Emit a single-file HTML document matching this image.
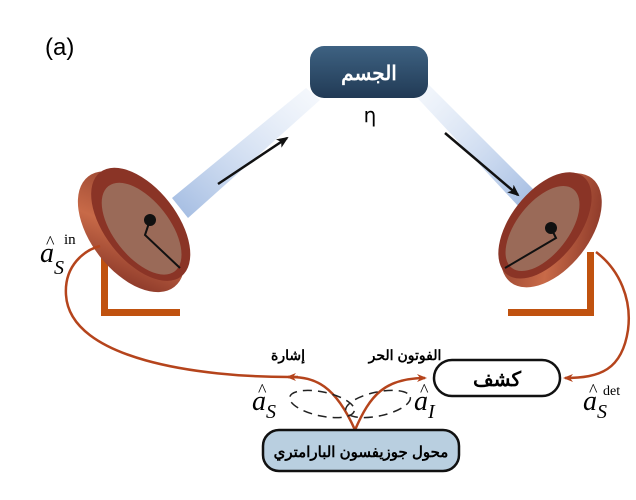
<!DOCTYPE html>
<html><head><meta charset="utf-8"><style>
body{margin:0;background:#fff}
svg{display:block}
.ar{font-family:"Liberation Sans","Noto Sans CJK SC",sans-serif;font-weight:bold}
.m{font-family:"Liberation Serif",serif;font-style:italic}
</style></head><body>
<svg width="636" height="500" viewBox="0 0 636 500">
<defs>
<linearGradient id="beamL" x1="0" y1="1" x2="1" y2="0">
<stop offset="0" stop-color="#3a6fc0" stop-opacity="0.8"/>
<stop offset="1" stop-color="#9fbce6" stop-opacity="0.15"/>
</linearGradient>
<linearGradient id="beamR" x1="1" y1="1" x2="0" y2="0">
<stop offset="0" stop-color="#3a6fc0" stop-opacity="0.8"/>
<stop offset="1" stop-color="#9fbce6" stop-opacity="0.15"/>
</linearGradient>
<linearGradient id="rim" x1="0" y1="0" x2="1" y2="1">
<stop offset="0" stop-color="#8a3a2a"/>
<stop offset="0.5" stop-color="#c86a48"/>
<stop offset="1" stop-color="#7a2a20"/>
</linearGradient>
<linearGradient id="obj" x1="0" y1="0" x2="0" y2="1">
<stop offset="0" stop-color="#3e6282"/>
<stop offset="1" stop-color="#213a55"/>
</linearGradient>
<marker id="ah" markerWidth="10" markerHeight="10" refX="8" refY="5" orient="auto" markerUnits="userSpaceOnUse">
<path d="M0,1 L10,5 L0,9 L3,5 z" fill="#b5441c"/></marker>
<marker id="bk" markerWidth="12" markerHeight="10" refX="10" refY="5" orient="auto" markerUnits="userSpaceOnUse">
<path d="M0,0 L12,5 L0,10 L3,5 z" fill="#111"/></marker>
</defs>

<text x="45" y="55" font-family="Liberation Sans,sans-serif" font-size="24">(a)</text>

<!-- beams -->
<polygon points="172,198 188,218 320,100 306,88" fill="url(#beamL)" opacity="0.6"/>
<polygon points="410,90 424,80 536,192 520,208" fill="url(#beamR)" opacity="0.6"/>
<line x1="218" y1="184" x2="287" y2="138" stroke="#111" stroke-width="2.5" marker-end="url(#bk)"/>
<line x1="445" y1="133" x2="518" y2="195" stroke="#111" stroke-width="2.5" marker-end="url(#bk)"/>

<!-- object -->
<rect x="310" y="46" width="118" height="52" rx="14" fill="url(#obj)"/>
<text x="369" y="80" class="ar" font-size="20" fill="#fff" text-anchor="middle">الجسم</text>
<text x="370" y="122" font-family="DejaVu Sans,sans-serif" font-size="20" text-anchor="middle">η</text>

<!-- left stand -->
<rect x="101" y="252" width="7" height="64" fill="#c0520f"/>
<rect x="101" y="309" width="79" height="7" fill="#c0520f"/>
<!-- left dish -->
<g transform="translate(136,228) rotate(52)">
<ellipse cx="0" cy="6" rx="70" ry="40" fill="url(#rim)"/>
<ellipse cx="0" cy="-6" rx="66" ry="36" fill="#8a3426"/>
<ellipse cx="4" cy="-4" rx="54" ry="28" fill="#9a6a58"/>
</g>
<path d="M150,220 L145,235 L180,268" stroke="#111" stroke-width="2" fill="none"/>
<circle cx="150" cy="220" r="6" fill="#111"/>

<!-- right stand -->
<rect x="587" y="252" width="7" height="64" fill="#c0520f"/>
<rect x="508" y="309" width="86" height="7" fill="#c0520f"/>
<!-- right dish -->
<g transform="translate(556,234) rotate(-52)">
<ellipse cx="0" cy="-6" rx="66" ry="38" fill="url(#rim)"/>
<ellipse cx="0" cy="-14" rx="62" ry="34" fill="#8a3426"/>
<ellipse cx="-4" cy="-14" rx="50" ry="26" fill="#9a6a58"/>
</g>
<path d="M551,228 L556,238 L505,268" stroke="#111" stroke-width="2" fill="none"/>
<circle cx="551" cy="228" r="6" fill="#111"/>

<!-- curves -->
<path d="M355,430 C335,385 315,377 290,377 C200,377 70,360 66,295 C64,265 85,250 100,246" stroke="#b5441c" stroke-width="2.5" fill="none"/>
<path d="M298,377 L288,377" stroke="#b5441c" stroke-width="2.5" marker-end="url(#ah)"/>
<path d="M355,430 C370,395 385,378 425,378" stroke="#b5441c" stroke-width="2.5" fill="none" marker-end="url(#ah)"/>
<path d="M596,252 C620,270 632,300 628,330 C622,370 600,378 565,378" stroke="#b5441c" stroke-width="2.5" fill="none" marker-end="url(#ah)"/>

<!-- dashed ellipses -->
<ellipse cx="322" cy="404" rx="33" ry="12" transform="rotate(12 322 404)" fill="none" stroke="#222" stroke-width="1.5" stroke-dasharray="9,6"/>
<ellipse cx="378" cy="404" rx="33" ry="12" transform="rotate(-12 378 404)" fill="none" stroke="#222" stroke-width="1.5" stroke-dasharray="9,6"/>

<!-- detector -->
<rect x="434" y="360" width="126" height="36" rx="18" fill="#fff" stroke="#111" stroke-width="2.5"/>
<text x="497" y="386" class="ar" font-size="20" text-anchor="middle">كشف</text>

<!-- converter -->
<rect x="263" y="430" width="196" height="41" rx="16" fill="#b9cfe0" stroke="#111" stroke-width="2.5"/>
<text x="361" y="457" class="ar" font-size="15" text-anchor="middle">محول جوزيفسون البارامتري</text>

<text x="288" y="360" class="ar" font-size="14" text-anchor="middle">إشارة</text>
<text x="405" y="360" class="ar" font-size="14" text-anchor="middle">الفوتون الحر</text>

<!-- math labels -->
<text x="40" y="262" class="m" font-size="28">a</text>
<text x="46" y="248" font-family="Liberation Serif,serif" font-size="18">^</text>
<text x="54" y="274" class="m" font-size="20">S</text>
<text x="64" y="244" font-family="Liberation Serif,serif" font-size="15">in</text>

<text x="252" y="410" class="m" font-size="28">a</text>
<text x="258" y="396" font-family="Liberation Serif,serif" font-size="18">^</text>
<text x="266" y="418" class="m" font-size="20">S</text>

<text x="414" y="410" class="m" font-size="28">a</text>
<text x="420" y="396" font-family="Liberation Serif,serif" font-size="18">^</text>
<text x="428" y="418" class="m" font-size="20">I</text>

<text x="583" y="410" class="m" font-size="28">a</text>
<text x="589" y="396" font-family="Liberation Serif,serif" font-size="18">^</text>
<text x="597" y="418" class="m" font-size="20">S</text>
<text x="603" y="395" font-family="Liberation Serif,serif" font-size="14">det</text>
</svg>
</body></html>
